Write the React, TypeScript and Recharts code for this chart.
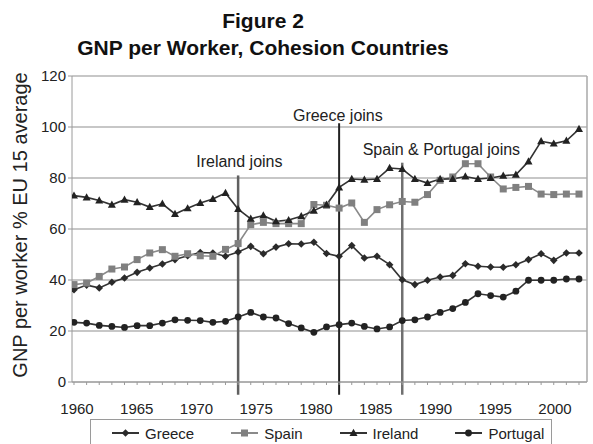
import React from "react";
import {
  LineChart,
  Line,
  XAxis,
  YAxis,
  CartesianGrid,
  Legend,
  ReferenceLine,
  ReferenceDot,
} from "recharts";

const years = [
  1960, 1961, 1962, 1963, 1964, 1965, 1966, 1967, 1968, 1969, 1970, 1971,
  1972, 1973, 1974, 1975, 1976, 1977, 1978, 1979, 1980, 1981, 1982, 1983,
  1984, 1985, 1986, 1987, 1988, 1989, 1990, 1991, 1992, 1993, 1994, 1995,
  1996, 1997, 1998, 1999, 2000,
];

const greece = [
  36.2, 38.0, 36.9, 39.1, 40.8, 43.0, 44.7, 46.3, 48.0, 49.5, 50.8, 50.6,
  49.3, 51.0, 53.2, 50.3, 52.9, 54.2, 54.1, 54.8, 50.4, 49.3, 53.5, 48.6,
  49.3, 46.0, 40.1, 38.2, 39.9, 41.2, 41.8, 46.4, 45.4, 45.1, 45.0, 46.0,
  48.0, 50.3, 47.7, 50.6, 50.6,
];

const spain = [
  38.2, 38.8, 41.4, 44.3, 45.1, 48.0, 50.6, 51.9, 49.3, 50.3, 49.5, 49.3,
  52.0, 54.3, 61.7, 62.6, 62.1, 62.1, 62.1, 69.6, 69.3, 68.2, 70.2, 62.6,
  67.6, 69.5, 70.8, 70.5, 73.5, 79.1, 80.4, 85.6, 85.6, 80.4, 75.7, 76.3,
  76.7, 73.7, 73.5, 73.7, 73.7,
];

const ireland = [
  73.1, 72.4, 71.2, 69.5, 71.5, 70.5, 68.6, 69.9, 65.9, 68.1, 70.2, 71.8,
  74.1, 67.8, 64.0, 65.3, 63.0, 63.5, 65.0, 67.2, 69.5, 76.3, 79.6, 79.3,
  79.6, 83.9, 83.5, 79.6, 78.0, 79.6, 79.6, 80.6, 79.6, 80.0, 80.9, 81.3,
  86.5, 94.4, 93.5, 94.6, 99.2,
];

const portugal = [
  23.4, 23.1, 22.2, 21.8, 21.4, 22.1, 22.1, 23.1, 24.4, 24.2, 24.1, 23.4,
  23.8, 25.5, 27.3, 25.5, 25.1, 22.9, 21.2, 19.5, 21.6, 22.5, 23.1, 21.8,
  20.8, 21.6, 24.1, 24.4, 25.5, 27.3, 28.8, 31.2, 34.6, 33.9, 33.3, 35.6,
  39.9, 39.9, 39.9, 40.4, 40.4,
];

const yTicks = [0, 20, 40, 60, 80, 100, 120];
const xTickLabels = [1960, 1965, 1970, 1975, 1980, 1985, 1990, 1995, 2000];

const joinYears = [1973, 1981, 1986];
const joinTops = [81, 101.5, 86];
const joinLabels = ["Ireland joins", "Greece joins", "Spain & Portugal joins"];
const joinLabelSpots = [
  { year: 1973.1, value: 86.6 },
  { year: 1980.9, value: 104.6 },
  { year: 1989.1, value: 91.3 },
];
const joinStyles = [
  { stroke: "#606060", width: 2.5 },
  { stroke: "#222", width: 2 },
  { stroke: "#707070", width: 2.5 },
];

const data = years.map((year, i) => ({
  year,
  Greece: greece[i],
  Spain: spain[i],
  Ireland: ireland[i],
  Portugal: portugal[i],
}));

type Marker = "diamond" | "square" | "triangle" | "circle";

const series: { key: string; stroke: string; fill: string; marker: Marker }[] = [
  { key: "Greece", stroke: "#333", fill: "#2a2a2a", marker: "diamond" },
  { key: "Spain", stroke: "#8a8a8a", fill: "#808080", marker: "square" },
  { key: "Ireland", stroke: "#333", fill: "#222", marker: "triangle" },
  { key: "Portugal", stroke: "#333", fill: "#222", marker: "circle" },
];

// data axis: 1960 sits at x=74, 2000 at x=579 in a 72..587 plot
const xMin = 1959.842;
const xMax = 2000.634;
// the printed year labels are drawn slightly off the data in the original
const labelMin = 1959.582;
const labelMax = 2002.678;

const FONT = "'Liberation Sans', Arial, Helvetica, sans-serif";

function markerShape(marker: Marker, cx: number, cy: number, fill: string) {
  switch (marker) {
    case "square":
      return <rect x={cx - 3.5} y={cy - 3.5} width={7} height={7} fill={fill} />;
    case "triangle":
      return (
        <polygon
          points={`${cx},${cy - 4.2} ${cx + 4},${cy + 3} ${cx - 4},${cy + 3}`}
          fill={fill}
        />
      );
    case "circle":
      return <circle cx={cx} cy={cy} r={3.4} fill={fill} />;
    default:
      return (
        <polygon
          points={`${cx},${cy - 3.8} ${cx + 3.8},${cy} ${cx},${cy + 3.8} ${cx - 3.8},${cy}`}
          fill={fill}
        />
      );
  }
}

function makeDot(marker: Marker, fill: string) {
  return (props: any) => {
    const { cx, cy, index } = props;
    if (cx == null || cy == null) return <g key={index} />;
    return <g key={index}>{markerShape(marker, cx, cy, fill)}</g>;
  };
}

function LegendBox() {
  return (
    <div
      style={{
        boxSizing: "border-box",
        width: 462,
        height: 30,
        border: "1px solid #9a9a9a",
        display: "flex",
        alignItems: "center",
        paddingLeft: 21,
        paddingBottom: 2,
        gap: 37,
        fontFamily: FONT,
        fontSize: 15,
        color: "#222",
        background: "#fff",
      }}
    >
      {series.map((s) => (
        <div key={s.key} style={{ display: "flex", alignItems: "center", gap: 6 }}>
          <svg width={27} height={10}>
            <line x1={0} y1={5} x2={27} y2={5} stroke={s.stroke} strokeWidth={2} />
            {markerShape(s.marker, 13.5, 5, s.fill)}
          </svg>
          <span>{s.key}</span>
        </div>
      ))}
    </div>
  );
}

export default function App() {
  return (
    <div
      style={{
        position: "absolute",
        left: 0,
        top: 0,
        width: 593,
        height: 444,
        overflow: "hidden",
        background: "#fff",
        fontFamily: FONT,
      }}
    >
      <div
        style={{
          position: "absolute",
          left: 0,
          top: 7,
          width: 526,
          textAlign: "center",
          fontSize: 21,
          fontWeight: "bold",
          lineHeight: "27px",
          color: "#111",
        }}
      >
        <div>Figure 2</div>
        <div>GNP per Worker, Cohesion Countries</div>
      </div>
      <LineChart
        width={593}
        height={444}
        data={data}
        margin={{ top: 76, right: 6, bottom: 0, left: 0 }}
        style={{ fontFamily: FONT }}
      >
        <CartesianGrid vertical={false} stroke="#b4b4b4" strokeWidth={1.5} />
        <XAxis
          dataKey="year"
          type="number"
          domain={[xMin, xMax]}
          allowDataOverflow
          ticks={years}
          interval={0}
          height={10}
          tickSize={3}
          stroke="#9a9a9a"
          tick={() => <g />}
        />
        <XAxis
          xAxisId="labels"
          dataKey="year"
          type="number"
          domain={[labelMin, labelMax]}
          allowDataOverflow
          ticks={xTickLabels}
          interval={0}
          height={52}
          axisLine={false}
          tickLine={false}
          tickSize={0}
          tickMargin={11}
          tick={{ fill: "#222", fontSize: 15 }}
        />
        <YAxis
          domain={[0, 120]}
          ticks={yTicks}
          interval={0}
          width={72}
          tickSize={4}
          tickMargin={2}
          stroke="#9a9a9a"
          tick={{ fill: "#222", fontSize: 15 }}
          label={({ viewBox }: any) => {
            const x = viewBox.x + 20;
            const y = viewBox.y + viewBox.height / 2 - 4;
            return (
              <text
                x={x}
                y={y}
                transform={`rotate(-90, ${x}, ${y})`}
                textAnchor="middle"
                dominantBaseline="central"
                fontSize={20}
                fill="#222"
              >
                GNP per worker % EU 15 average
              </text>
            );
          }}
        />
        <ReferenceLine x={xMax} stroke="#a8a8a8" strokeWidth={1.5} />
        {joinYears.map((yr, i) => (
          <ReferenceLine
            key={yr}
            segment={[
              { x: yr, y: joinTops[i] },
              { x: yr, y: -5 },
            ]}
            ifOverflow="visible"
            stroke={joinStyles[i].stroke}
            strokeWidth={joinStyles[i].width}
          />
        ))}
        {joinLabels.map((text, i) => (
          <ReferenceDot
            key={text}
            x={joinLabelSpots[i].year}
            y={joinLabelSpots[i].value}
            r={0}
            fill="none"
            stroke="none"
            ifOverflow="visible"
            label={{
              value: text,
              position: "center",
              fill: "#222",
              fontSize: 16,
            }}
          />
        ))}
        {/* invisible carrier so the label axis gets its scale */}
        <Line
          xAxisId="labels"
          dataKey="Greece"
          stroke="none"
          dot={false}
          activeDot={false}
          legendType="none"
          isAnimationActive={false}
        />
        {series.map((s) => (
          <Line
            key={s.key}
            type="linear"
            dataKey={s.key}
            stroke={s.stroke}
            strokeWidth={1.6}
            dot={makeDot(s.marker, s.fill)}
            activeDot={false}
            isAnimationActive={false}
          />
        ))}
        <Legend
          layout="horizontal"
          verticalAlign="middle"
          align="center"
          wrapperStyle={{ left: 90, top: 419, width: 462 }}
          content={() => <LegendBox />}
        />
      </LineChart>
    </div>
  );
}
